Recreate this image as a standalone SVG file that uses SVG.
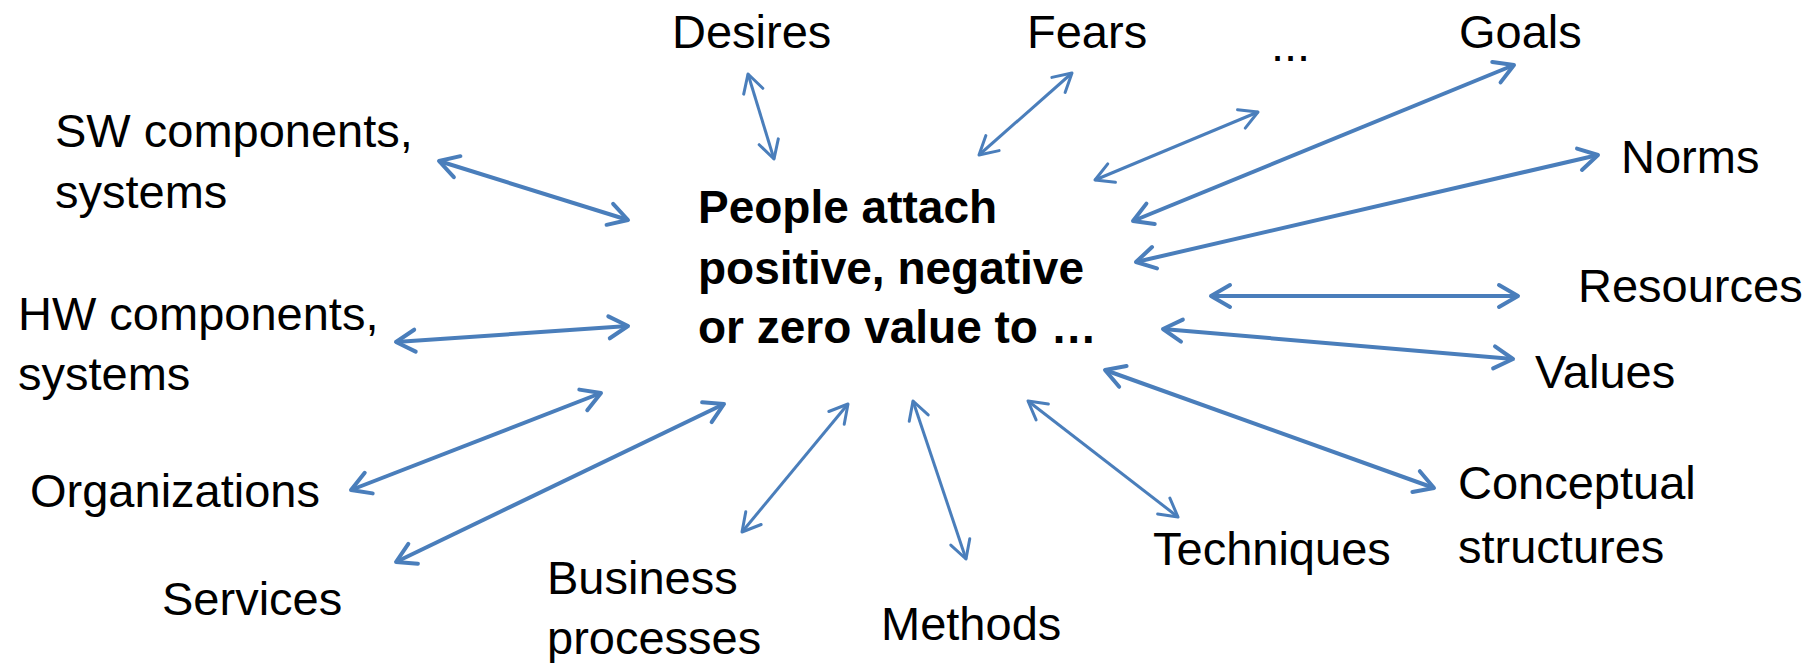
<svg xmlns="http://www.w3.org/2000/svg" width="1812" height="663" viewBox="0 0 1812 663">
<style>
  .lbl { font-family: "Liberation Sans", Arial, sans-serif; font-size: 47px; fill: #000; }
  .ctr { font-family: "Liberation Sans", Arial, sans-serif; font-size: 46px; font-weight: bold; fill: #000; }
  .thick { stroke: #4a7ebb; stroke-width: 4; fill: none; marker-start: url(#ahThick); marker-end: url(#ahThick); }
  .thin { stroke: #4a7ebb; stroke-width: 3; fill: none; marker-start: url(#ahThin); marker-end: url(#ahThin); }
</style>
<defs>
  <marker id="ahThick" markerUnits="userSpaceOnUse" viewBox="-26 -16 30 32" refX="0" refY="0" markerWidth="30" markerHeight="32" orient="auto-start-reverse" overflow="visible">
    <path d="M-19,-11 L0,0 L-19,11" fill="none" stroke="#4a7ebb" stroke-width="4" stroke-linejoin="round" stroke-linecap="round"/>
  </marker>
  <marker id="ahThin" markerUnits="userSpaceOnUse" viewBox="-26 -16 30 32" refX="0" refY="0" markerWidth="30" markerHeight="32" orient="auto-start-reverse" overflow="visible">
    <path d="M-18,-10 L0,0 L-18,10" fill="none" stroke="#4a7ebb" stroke-width="3" stroke-linejoin="round" stroke-linecap="round"/>
  </marker>
</defs>
<rect width="1812" height="663" fill="#fff"/>
<g id="connectors">
  <line class="thin" x1="748" y1="74" x2="774" y2="159"/>
  <line class="thin" x1="1072" y1="73" x2="979" y2="155"/>
  <line class="thin" x1="1258" y1="112" x2="1095" y2="180"/>
  <line class="thick" x1="1514" y1="65" x2="1133" y2="221"/>
  <line class="thick" x1="1598" y1="155" x2="1136" y2="262"/>
  <line class="thick" x1="1211" y1="296" x2="1518" y2="296"/>
  <line class="thick" x1="1163" y1="329" x2="1513" y2="359"/>
  <line class="thick" x1="1105" y1="370" x2="1434" y2="488"/>
  <line class="thin" x1="1028" y1="401" x2="1178" y2="517"/>
  <line class="thin" x1="913" y1="401" x2="966" y2="559"/>
  <line class="thin" x1="742" y1="532" x2="848" y2="404"/>
  <line class="thick" x1="396" y1="562" x2="724" y2="404"/>
  <line class="thick" x1="351" y1="490" x2="601" y2="393"/>
  <line class="thick" x1="396" y1="342" x2="628" y2="326"/>
  <line class="thick" x1="439" y1="161" x2="628" y2="220"/>
</g>
<g id="center">
  <text class="ctr" x="698" y="223">People attach</text>
  <text class="ctr" x="698" y="284">positive, negative</text>
  <text class="ctr" x="698" y="343">or zero value to …</text>
</g>
<g id="desires"><text class="lbl" x="672" y="48">Desires</text></g>
<g id="fears"><text class="lbl" x="1027" y="48">Fears</text></g>
<g id="etc"><text class="lbl" x="1271" y="61">...</text></g>
<g id="goals"><text class="lbl" x="1459" y="48">Goals</text></g>
<g id="sw"><text class="lbl" x="55" y="147">SW components,</text><text class="lbl" x="55" y="208">systems</text></g>
<g id="norms"><text class="lbl" x="1621" y="173">Norms</text></g>
<g id="resources"><text class="lbl" x="1578" y="302">Resources</text></g>
<g id="hw"><text class="lbl" x="18" y="330">HW components,</text><text class="lbl" x="18" y="390">systems</text></g>
<g id="values"><text class="lbl" x="1535" y="388">Values</text></g>
<g id="organizations"><text class="lbl" x="30" y="507">Organizations</text></g>
<g id="conceptual"><text class="lbl" x="1458" y="499">Conceptual</text><text class="lbl" x="1458" y="563">structures</text></g>
<g id="techniques"><text class="lbl" x="1153" y="565">Techniques</text></g>
<g id="services"><text class="lbl" x="162" y="615">Services</text></g>
<g id="business"><text class="lbl" x="547" y="594">Business</text><text class="lbl" x="547" y="654">processes</text></g>
<g id="methods"><text class="lbl" x="881" y="640">Methods</text></g>
</svg>
